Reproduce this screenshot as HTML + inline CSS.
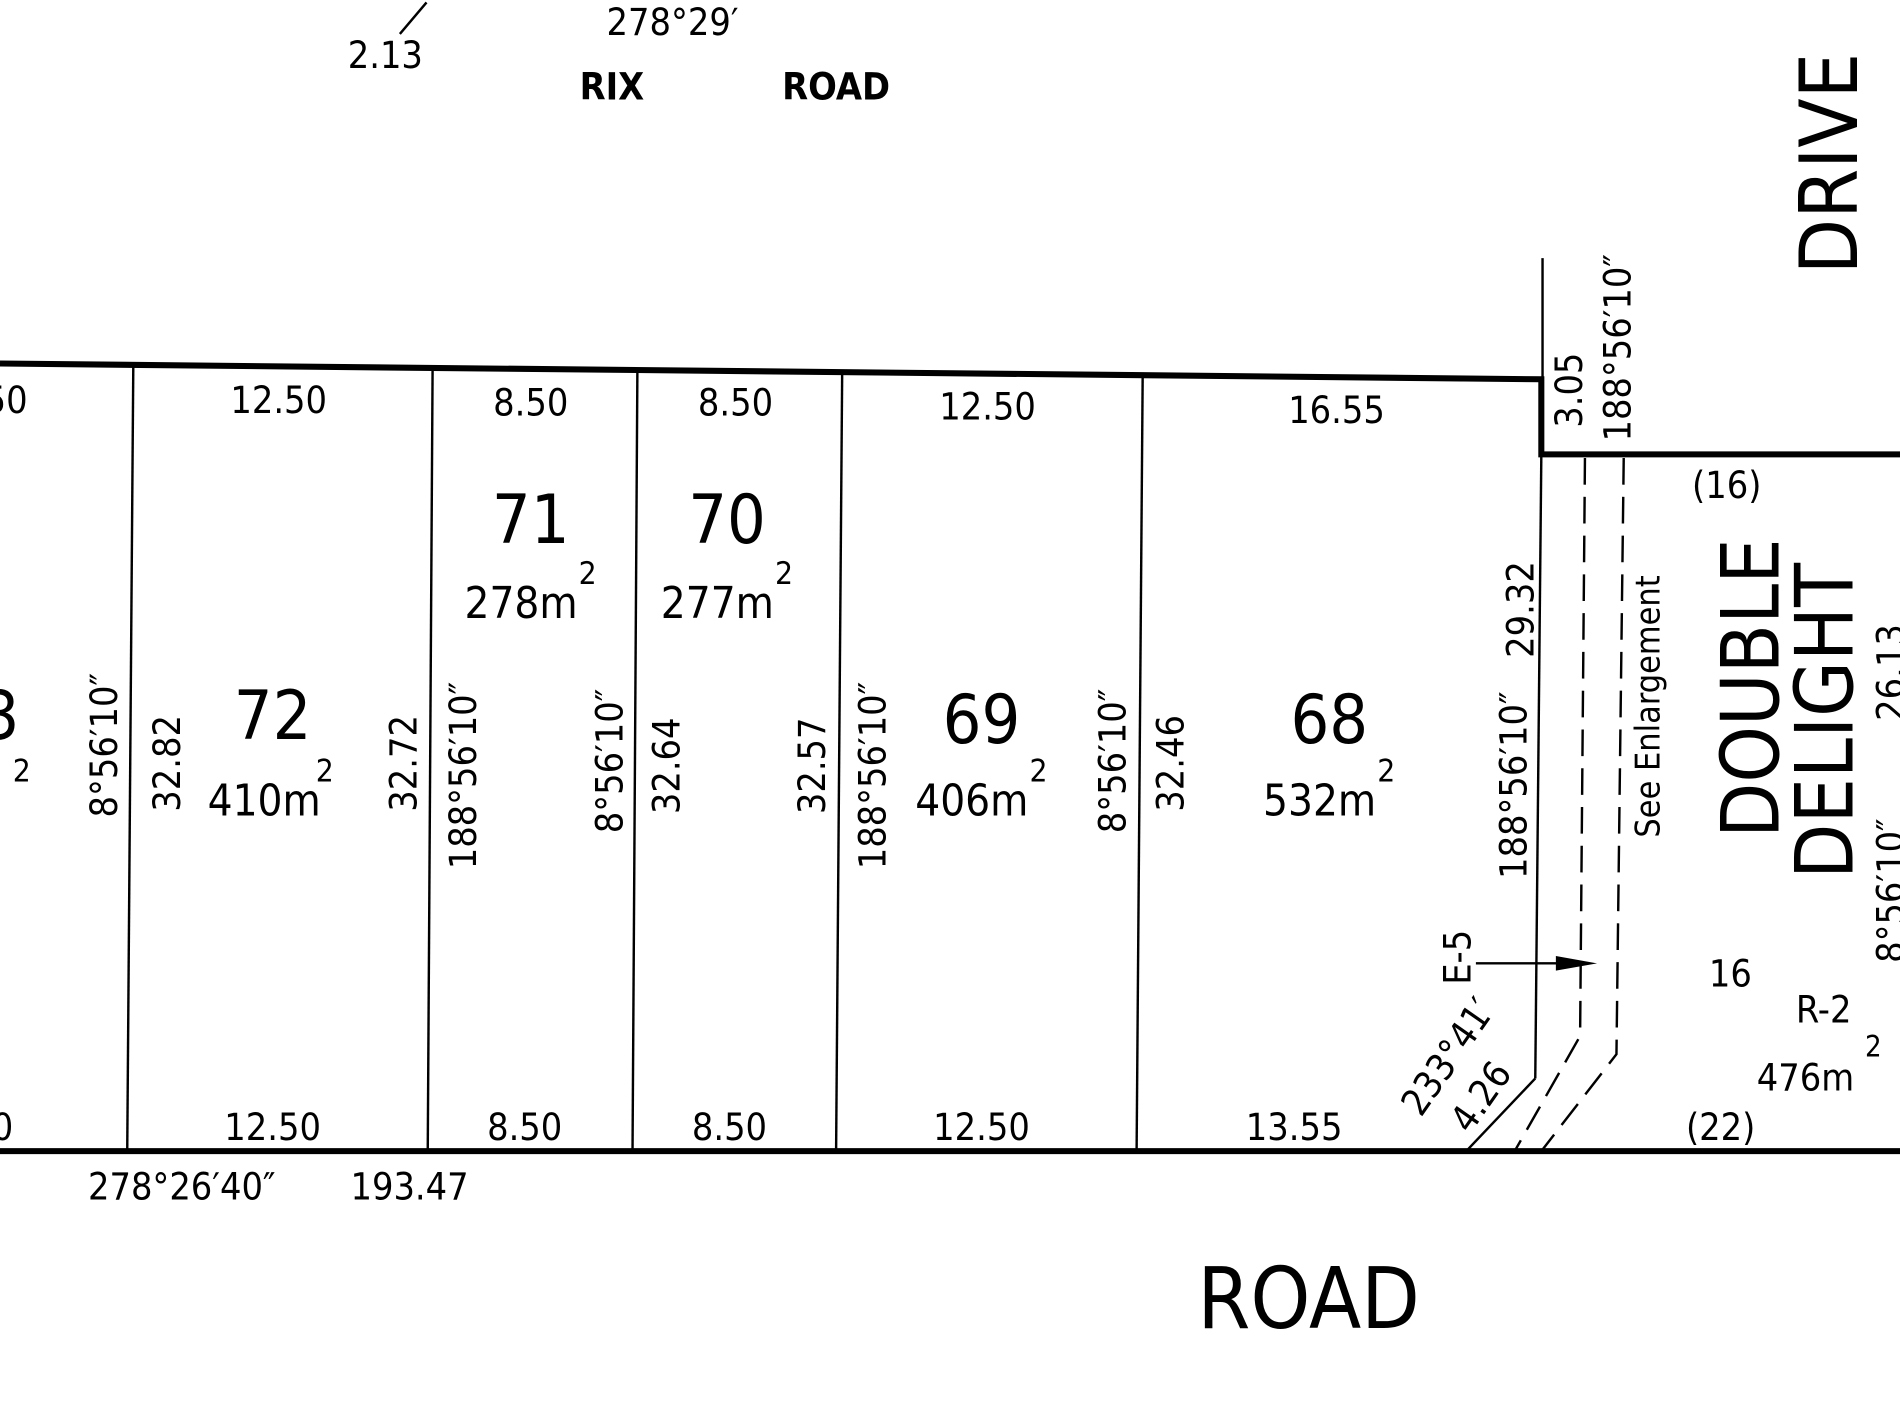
<!DOCTYPE html>
<html><head><meta charset="utf-8"><style>
html,body{margin:0;padding:0;background:#fff;}
svg{display:block;}
text{font-family:"DejaVu Sans Condensed","Liberation Sans Narrow","Liberation Sans",sans-serif;fill:#000;}
</style></head><body>
<svg width="1900" height="1425" viewBox="0 0 1568 1176" xmlns="http://www.w3.org/2000/svg">
<rect width="1568" height="1176" fill="#fff"/>
<g stroke="#000" fill="none">
<polyline points="0,300 1272,313 1272,375 1568,375" stroke-width="5"/>
<line x1="0" y1="950" x2="1568" y2="950" stroke-width="5"/>
<line x1="1273" y1="213" x2="1273" y2="313" stroke-width="2"/>
<g stroke-width="2">
<line x1="110" y1="302" x2="105" y2="950"/>
<line x1="357" y1="305" x2="353" y2="950"/>
<line x1="526" y1="307" x2="522" y2="950"/>
<line x1="695" y1="309" x2="690" y2="950"/>
<line x1="943" y1="311" x2="938" y2="950"/>
<line x1="1272" y1="375" x2="1267" y2="890"/>
<line x1="1267" y1="890" x2="1210" y2="950"/>
</g>
<g stroke-width="2" stroke-dasharray="22,10">
<polyline points="1308,378 1304,855 1250,950"/>
<polyline points="1340,378 1334,870 1272,950"/>
</g>
<line x1="1218" y1="795" x2="1300" y2="795" stroke-width="2"/>
<line x1="330" y1="28" x2="352" y2="2" stroke-width="2"/>
</g>
<polygon points="1318,795 1284,789 1284,801" fill="#000"/>

<g font-size="31" text-anchor="middle">
<text x="5" y="341">50</text>
<text x="230" y="341">12.50</text>
<text x="438" y="343">8.50</text>
<text x="607" y="343">8.50</text>
<text x="815" y="346">12.50</text>
<text x="1103" y="349">16.55</text>
<text x="2" y="941">0</text>
<text x="225" y="941">12.50</text>
<text x="433" y="941">8.50</text>
<text x="602" y="941">8.50</text>
<text x="810" y="941">12.50</text>
<text x="1068" y="941">13.55</text>
<text x="1420" y="941">(22)</text>
<text x="150" y="990">278°26′40″</text>
<text x="338" y="990">193.47</text>
<text x="1425" y="411">(16)</text>
<text x="1428" y="814">16</text>
<text x="1505" y="844">R-2</text>
<text x="1490" y="900">476m</text>
<text x="1546" y="872" font-size="24">2</text>
<text x="555" y="29">278°29′</text>
<text x="318" y="56">2.13</text>
<text x="505" y="82" font-weight="bold">RIX</text>
<text x="690" y="82" font-weight="bold">ROAD</text>
</g>
<text x="1080" y="1096" font-size="70" text-anchor="middle">ROAD</text>

<g text-anchor="middle">
<text x="225" y="610" font-size="56">72</text>
<text x="218" y="673" font-size="36">410m</text><text x="268" y="645" font-size="26">2</text>
<text x="438" y="448" font-size="56">71</text>
<text x="430" y="510" font-size="36">278m</text><text x="485" y="482" font-size="26">2</text>
<text x="600" y="448" font-size="56">70</text>
<text x="592" y="510" font-size="36">277m</text><text x="647" y="482" font-size="26">2</text>
<text x="810" y="613" font-size="56">69</text>
<text x="802" y="673" font-size="36">406m</text><text x="857" y="645" font-size="26">2</text>
<text x="1097" y="613" font-size="56">68</text>
<text x="1089" y="673" font-size="36">532m</text><text x="1144" y="645" font-size="26">2</text>
<text x="0" y="610" font-size="56">3</text>
<text x="18" y="645" font-size="26">2</text>
</g>

<g font-size="31" text-anchor="middle" dominant-baseline="central">
<text transform="translate(86,615) rotate(-90)">8°56′10″</text>
<text transform="translate(138,630) rotate(-90)">32.82</text>
<text transform="translate(333,630) rotate(-90)">32.72</text>
<text transform="translate(382,640) rotate(-90)">188°56′10″</text>
<text transform="translate(503,628) rotate(-90)">8°56′10″</text>
<text transform="translate(550,632) rotate(-90)">32.64</text>
<text transform="translate(670,632) rotate(-90)">32.57</text>
<text transform="translate(720,640) rotate(-90)">188°56′10″</text>
<text transform="translate(918,628) rotate(-90)">8°56′10″</text>
<text transform="translate(966,630) rotate(-90)">32.46</text>
<text transform="translate(1249,648) rotate(-90)">188°56′10″</text>
<text transform="translate(1255,503) rotate(-90)">29.32</text>
<text transform="translate(1295,322) rotate(-90)">3.05</text>
<text transform="translate(1335,287) rotate(-90)">188°56′10″</text>
<text transform="translate(1203,790) rotate(-90)">E-5</text>
<text transform="translate(1560,735) rotate(-90)">8°56′10″</text>
<text transform="translate(1560,555) rotate(-90)">26.13</text>
<text transform="translate(1360,583) rotate(-90)" font-size="28">See Enlargement</text>
<text transform="translate(1445,568) rotate(-90)" font-size="66">DOUBLE</text>
<text transform="translate(1506,595) rotate(-90)" font-size="66">DELIGHT</text>
<text transform="translate(1510,135) rotate(-90)" font-size="66">DRIVE</text>
<text transform="translate(1195,872) rotate(-55)">233°41′</text>
<text transform="translate(1222,905) rotate(-55)">4.26</text>
</g>
</svg>
</body></html>
